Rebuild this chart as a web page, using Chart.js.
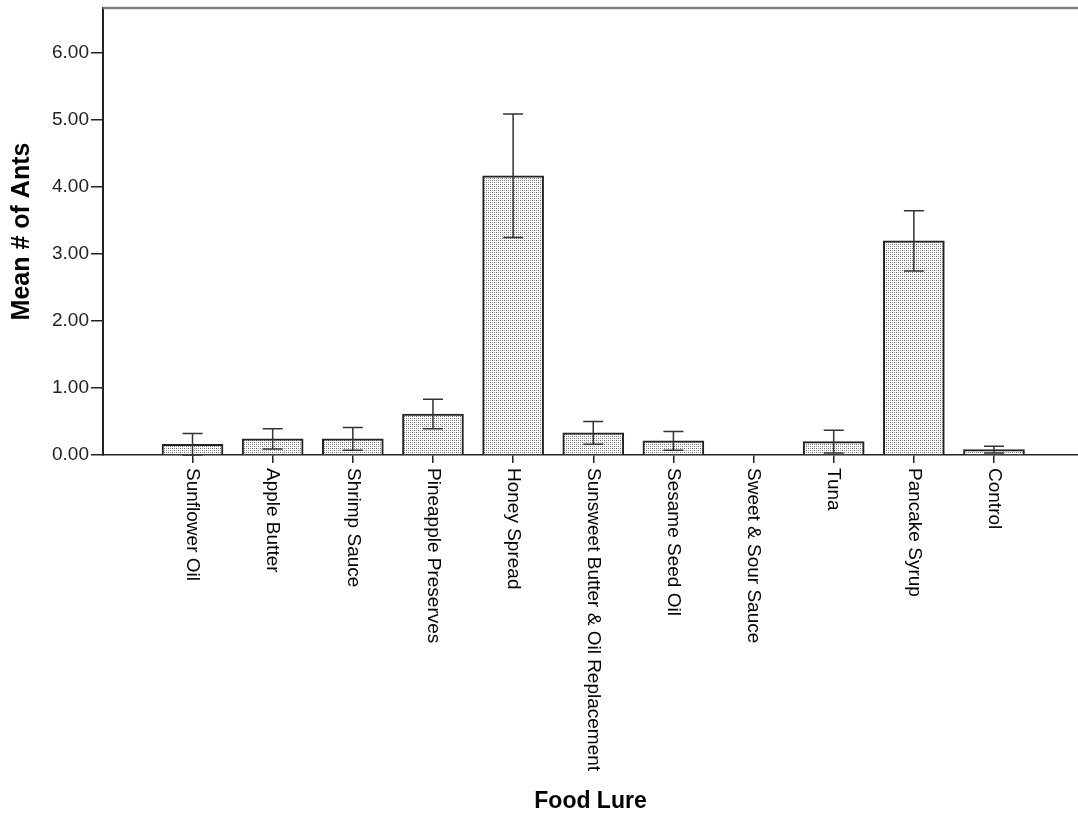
<!DOCTYPE html>
<html>
<head>
<meta charset="utf-8">
<script src="https://cdn.jsdelivr.net/npm/chart.js@4.4.1/dist/chart.umd.min.js"></script>
<style>
  html, body { margin: 0; padding: 0; background: #fff; }
  #wrap { width: 1078px; height: 819px; }
</style>
</head>
<body>
<div id="wrap"><canvas id="myChart"></canvas></div>
<script>
const categories = ["Sunflower Oil", "Apple Butter", "Shrimp Sauce", "Pineapple Preserves", "Honey Spread",
    "Sunsweet Butter & Oil Replacement", "Sesame Seed Oil", "Sweet & Sour Sauce", "Tuna", "Pancake Syrup", "Control"];
const means = [0.16, 0.24, 0.24, 0.61, 4.16, 0.33, 0.21, 0.00, 0.20, 3.19, 0.08];
const errors = [0.16, 0.15, 0.17, 0.22, 0.92, 0.17, 0.14, 0.00, 0.17, 0.45, 0.05];
const yTicks = [0, 1, 2, 3, 4, 5, 6];

Chart.defaults.font.family = '"Liberation Sans", Arial, sans-serif';
Chart.defaults.color = '#000';

// stippled fill like the SPSS bars
let tile = document.createElement('canvas');
tile.width = 4; tile.height = 4;
let g = tile.getContext('2d');
g.fillStyle = '#fff'; g.fillRect(0, 0, 4, 4);
g.fillStyle = '#6a6a6a'; g.fillRect(0, 0, 1, 1); g.fillRect(2, 2, 1, 1);
g.fillStyle = '#a0a0a0'; g.fillRect(2, 0, 1, 1); g.fillRect(0, 2, 1, 1);
let stipple = g.createPattern(tile, 'repeat');

const extras = {
    id: 'extras',
    afterDatasetsDraw(chart) {
        let {ctx, chartArea, scales: {x, y}} = chart;
        ctx.save();
        // error bars
        ctx.strokeStyle = '#333';
        ctx.lineWidth = 1.5;
        means.forEach((m, i) => {
            if (!errors[i]) return;
            let px = x.getPixelForValue(i);
            let hi = y.getPixelForValue(m + errors[i]);
            let lo = y.getPixelForValue(Math.max(0, m - errors[i]));
            ctx.beginPath();
            ctx.moveTo(px, hi); ctx.lineTo(px, lo);
            ctx.moveTo(px - 10, hi); ctx.lineTo(px + 10, hi);
            ctx.moveTo(px - 10, lo); ctx.lineTo(px + 10, lo);
            ctx.stroke();
        });
        // top frame line
        ctx.strokeStyle = '#808080';
        ctx.lineWidth = 2.5;
        ctx.beginPath();
        ctx.moveTo(chartArea.left, chartArea.top);
        ctx.lineTo(chart.width, chartArea.top);
        ctx.stroke();
        ctx.restore();
    },
    afterDraw(chart) {
        // category labels, rotated to read top to bottom
        let {ctx, chartArea, scales: {x}} = chart;
        ctx.save();
        ctx.font = '19px "Liberation Sans", Arial, sans-serif';
        ctx.fillStyle = '#000';
        ctx.textAlign = 'left';
        ctx.textBaseline = 'middle';
        categories.forEach((c, i) => {
            ctx.save();
            ctx.translate(x.getPixelForValue(i), chartArea.bottom + 13);
            ctx.rotate(Math.PI / 2);
            ctx.fillText(c, 0, 0);
            ctx.restore();
        });
        ctx.restore();
    }
};

var ctx = document.getElementById('myChart').getContext('2d');
var myChart = new Chart(ctx, {
    type: 'bar',
    data: {
        datasets: [{
            label: 'Mean # of Ants',
            data: categories.map((c, i) => ({x: i, y: means[i]})),
            backgroundColor: stipple,
            borderColor: '#222',
            borderWidth: 2,
            barThickness: 61
        }]
    },
    options: {
        responsive: true,
        maintainAspectRatio: false,
        animation: false,
        layout: { padding: { top: 8, right: 0, left: 0, bottom: 0 } },
        plugins: { legend: { display: false }, tooltip: { enabled: false } },
        scales: {
            x: {
                type: 'linear',
                offset: false,
                min: -1.117,
                max: 11.048,
                afterBuildTicks: s => { s.ticks = categories.map((c, i) => ({value: i})); },
                afterFit: s => { s.height = 364; s.paddingLeft = 0; s.paddingRight = 0; },
                ticks: { display: false },
                grid: { offset: false, drawOnChartArea: false, tickLength: 8, color: '#222', lineWidth: 1.5 },
                border: { color: '#222', width: 1.5 },
                title: {
                    display: true, text: 'Food Lure', color: '#000',
                    font: { size: 23, weight: 'bold' },
                    padding: { top: 0, bottom: 4 }
                }
            },
            y: {
                min: 0,
                max: 6.66,
                afterBuildTicks: s => { s.ticks = yTicks.map(v => ({value: v})); },
                afterFit: s => { s.width = 103; s.paddingTop = 0; s.paddingBottom = 0; },
                ticks: { callback: v => v.toFixed(2), font: { size: 19 }, color: '#222', padding: 2 },
                grid: { drawOnChartArea: false, tickLength: 12, color: '#222', lineWidth: 1.5 },
                border: { color: '#222', width: 2 },
                title: {
                    display: true, text: 'Mean # of Ants', color: '#000',
                    font: { size: 25, weight: 'bold' },
                    padding: { top: 7, bottom: 0 }
                }
            }
        }
    },
    plugins: [extras]
});
</script>
</body>
</html>
